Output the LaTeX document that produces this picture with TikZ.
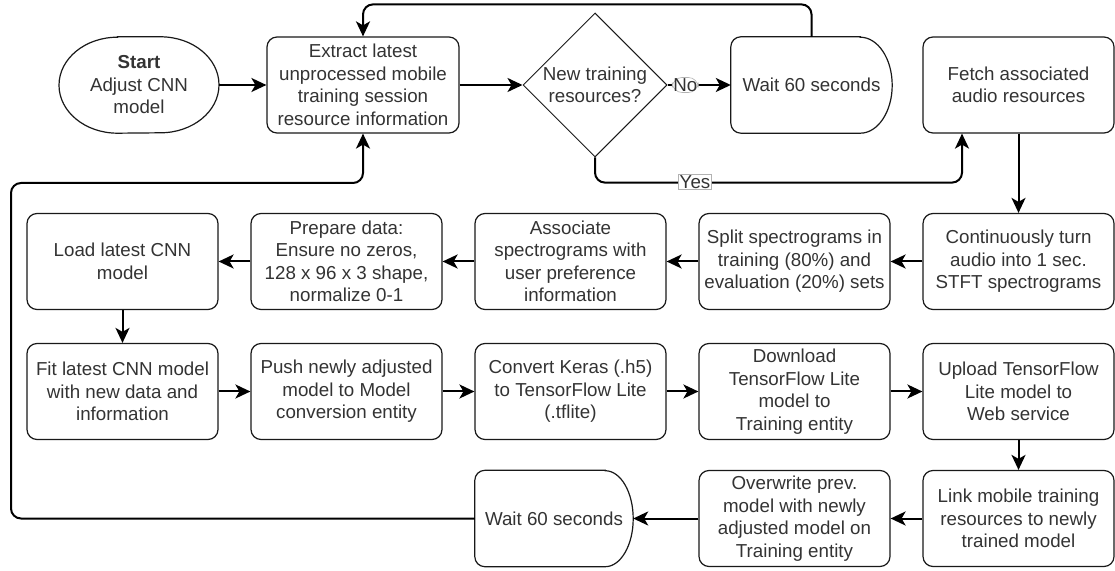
\documentclass[tikz,border=0pt]{standalone}
\usepackage{fontspec}
\setmainfont{Liberation Sans}
\usetikzlibrary{arrows.meta,shapes.geometric,calc}
\begin{document}
\begin{tikzpicture}[x=1pt,y=1pt,
  txt/.style={font=\fontsize{18.75}{22.5}\selectfont, text=black!80, align=center},
  box/.style={txt, draw=black!90, line width=1.2pt, rounded corners=10pt,
    minimum width=191pt, minimum height=96pt, inner sep=0pt},
  plain/.style={txt, inner sep=0pt, minimum height=96pt},
  outline/.style={draw=black!90, line width=1.2pt},
  flow/.style={draw=black, line width=2pt, rounded corners=10pt,
    -{Stealth[length=15pt,width=14pt,inset=4pt]}},
  tag/.style={txt, fill=white, draw=black!30, line width=0.6pt, inner sep=1pt}
]
\useasboundingbox (0,0) rectangle (1115,570);

% ---- first row ----
\node[plain, minimum width=160pt] (start) at (139,485) {\textbf{Start}\\Adjust CNN\\model};
\draw[outline] ([xshift=-21.5pt]start.north) -- ([xshift=21.5pt]start.north)
  arc[start angle=90, end angle=-90, x radius=58.5pt, y radius=48pt]
  -- ([xshift=-21.5pt]start.south)
  arc[start angle=270, end angle=90, x radius=58.5pt, y radius=48pt] -- cycle;

\node[box, minimum width=192pt] (extract) at (363,485)
  {Extract latest\\unprocessed mobile\\training session\\resource information};

\node[diamond, draw=black!90, line width=1pt, minimum width=144pt, minimum height=144pt,
  inner sep=0pt] (dia) at (595,485) {};
\node[txt] (diatext) at (dia.center) {New training\\resources?};

\node[plain, minimum width=161pt] (wait1) at (811.5,485) {Wait 60 seconds};
\draw[outline, rounded corners=10pt] ([xshift=-32pt]wait1.north east) -- (wait1.north west)
  -- (wait1.south west) [sharp corners] -- ([xshift=-32pt]wait1.south east)
  arc[start angle=-90, end angle=90, x radius=32pt, y radius=48pt] -- cycle;

\node[box] (fetch) at (1018.5,485) {Fetch associated\\audio resources};

% ---- second row ----
\node[box] (load)  at (122.5,308.5) {Load latest CNN\\model};
\node[box] (prep)  at (346.5,308.5) {Prepare data:\\Ensure no zeros,\\128 x 96 x 3 shape,\\normalize 0-1};
\node[box] (assoc) at (570.5,308.5) {Associate\\spectrograms with\\user preference\\information};
\node[box] (split) at (794.5,308.5) {Split spectrograms in\\training (80\%) and\\evaluation (20\%) sets};
\node[box] (stft)  at (1018.5,308.5) {Continuously turn\\audio into 1 sec.\\STFT spectrograms};

% ---- third row ----
\node[box] (fit)      at (122.5,178.5) {Fit latest CNN model\\with new data and\\information};
\node[box] (push)     at (346.5,178.5) {Push newly adjusted\\model to Model\\conversion entity};
\node[box] (convert)  at (570.5,178.5) {Convert Keras (.h5)\\to TensorFlow Lite\\(.tflite)};
\node[box] (download) at (794.5,178.5) {Download\\TensorFlow Lite\\model to\\Training entity};
\node[box] (upload)   at (1018.5,178.5) {Upload TensorFlow\\Lite model to\\Web service};

% ---- fourth row ----
\node[box] (link)      at (1018.5,51.5) {Link mobile training\\resources to newly\\trained model};
\node[box] (overwrite) at (794.5,51.5) {Overwrite prev.\\model with newly\\adjusted model on\\Training entity};
\node[plain, minimum width=158pt] (wait2) at (554,51.5) {Wait 60 seconds};
\draw[outline, rounded corners=10pt] ([xshift=-28pt]wait2.north east) -- (wait2.north west)
  -- (wait2.south west) [sharp corners] -- ([xshift=-28pt]wait2.south east)
  arc[start angle=-90, end angle=90, x radius=28pt, y radius=48pt] -- cycle;

% ---- connectors ----
\draw[flow] (start.east) -- (extract.west);
\draw[flow] (extract.east) -- (dia.west);
\draw[flow] (dia.east) -- (wait1.west) node[tag, pos=0.28] (no) {No};
\draw[flow] (wait1.north) |- ($(extract.north)+(0,32)$) -- (extract.north);
\draw[flow] (dia.south) |- ($(fetch.south)+(-56.5,-49)$) -- ($(fetch.south)+(-56.5,0)$);
\node[tag] (yes) at (695,388) {Yes};
\draw[flow] (fetch.south) -- (stft.north);

\draw[flow] (stft.west) -- (split.east);
\draw[flow] (split.west) -- (assoc.east);
\draw[flow] (assoc.west) -- (prep.east);
\draw[flow] (prep.west) -- (load.east);
\draw[flow] (load.south) -- (fit.north);

\draw[flow] (fit.east) -- (push.west);
\draw[flow] (push.east) -- (convert.west);
\draw[flow] (convert.east) -- (download.west);
\draw[flow] (download.east) -- (upload.west);
\draw[flow] (upload.south) -- (link.north);

\draw[flow] (link.west) -- (overwrite.east);
\draw[flow] (overwrite.west) -- (wait2.east);
\draw[flow] (wait2.west) -| (11,387) -| (extract.south);
\end{tikzpicture}
\end{document}
